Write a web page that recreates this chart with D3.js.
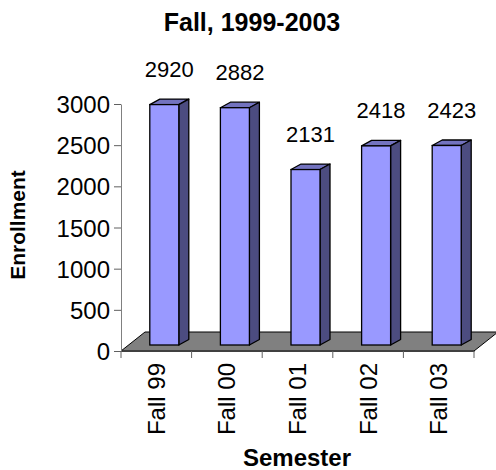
<!DOCTYPE html>
<html>
<head>
<meta charset="utf-8">
<script src="https://d3js.org/d3.v7.min.js"></script>
<style>
    body { margin: 0; background: #fff; }
    text { font-family: "Liberation Sans", Arial, sans-serif; fill: #000; }
</style>
</head>
<body>
<div class="chart"></div>
<script>
var semesters = ["Fall 99", "Fall 00", "Fall 01", "Fall 02", "Fall 03"];
var enrollment = [2920, 2882, 2131, 2418, 2423];
var yTicks = [0, 500, 1000, 1500, 2000, 2500, 3000];

var svgWidth = 496;
var svgHeight = 470;

// plot area (front plane of the floor)
var plot = { left: 121, right: 474, top: 104, bottom: 351 };

// floor depth and bar depth (fake 3d)
var floorDepth = { x: 24, y: -19 };
var barShift = { x: 8, y: -6 };
var barDepth = { x: 10, y: -5.5 };

var svg = d3.select(".chart")
    .append("svg")
    .attr("width", svgWidth)
    .attr("height", svgHeight);

var xBandScale = d3.scaleBand()
    .domain(semesters)
    .range([plot.left, plot.right]);

var yLinearScale = d3.scaleLinear()
    .domain([0, 3000])
    .range([plot.bottom, plot.top]);

var barWidth = 29;

// title
svg.append("text")
    .attr("x", 252)
    .attr("y", 31)
    .attr("text-anchor", "middle")
    .style("font-size", "25px")
    .style("font-weight", "bold")
    .text("Fall, 1999-2003");

// floor
var fl = [
    [plot.left, plot.bottom],
    [plot.right, plot.bottom],
    [plot.right + floorDepth.x, plot.bottom + floorDepth.y],
    [plot.left + floorDepth.x, plot.bottom + floorDepth.y]
];
svg.append("polygon")
    .attr("points", fl.map(p => p.join(",")).join(" "))
    .attr("fill", "#808080")
    .attr("stroke", "#000")
    .attr("stroke-width", 1);

// bars
var barGroup = svg.selectAll(".bar")
    .data(semesters)
    .enter()
    .append("g")
    .attr("class", "bar");

function frontX(d) {
    return xBandScale(d) + xBandScale.bandwidth() / 2 + barShift.x - barWidth / 2;
}

function baseY() {
    return yLinearScale(0) + barShift.y;
}

function topY(i) {
    return yLinearScale(enrollment[i]) + barShift.y;
}

// top face
barGroup.append("polygon")
    .attr("points", function(d, i) {
        var x0 = frontX(d), y0 = topY(i);
        return [
            [x0, y0],
            [x0 + barWidth, y0],
            [x0 + barWidth + barDepth.x, y0 + barDepth.y],
            [x0 + barDepth.x, y0 + barDepth.y]
        ].map(p => p.join(",")).join(" ");
    })
    .attr("fill", "#7373bf")
    .attr("stroke", "#000")
    .attr("stroke-width", 1.3)
    .attr("stroke-linejoin", "round");

// side face
barGroup.append("polygon")
    .attr("points", function(d, i) {
        var x0 = frontX(d) + barWidth, y0 = topY(i), y1 = baseY();
        return [
            [x0, y0],
            [x0 + barDepth.x, y0 + barDepth.y],
            [x0 + barDepth.x, y1 + barDepth.y],
            [x0, y1]
        ].map(p => p.join(",")).join(" ");
    })
    .attr("fill", "#4c4c80")
    .attr("stroke", "#000")
    .attr("stroke-width", 1.3)
    .attr("stroke-linejoin", "round");

// front face
barGroup.append("rect")
    .attr("x", d => frontX(d))
    .attr("y", (d, i) => topY(i))
    .attr("width", barWidth)
    .attr("height", (d, i) => baseY() - topY(i))
    .attr("fill", "#9999ff")
    .attr("stroke", "#000")
    .attr("stroke-width", 1.3);

// value labels
barGroup.append("text")
    .attr("x", d => frontX(d) + barWidth / 2 + barDepth.x / 2)
    .attr("y", (d, i) => topY(i) + barDepth.y - 22)
    .attr("text-anchor", "middle")
    .style("font-size", "22px")
    .text((d, i) => enrollment[i]);

// y axis
var leftAxis = d3.axisLeft(yLinearScale)
    .tickValues(yTicks)
    .tickFormat(d3.format("d"))
    .tickSize(7)
    .tickSizeOuter(0)
    .tickPadding(4);

var yAxis = svg.append("g")
    .attr("transform", `translate(${plot.left}, 0)`)
    .call(leftAxis);

yAxis.select(".domain").attr("stroke", "#808080");
yAxis.selectAll(".tick line").attr("stroke", "#606060");
yAxis.selectAll(".tick text")
    .style("font-size", "24px")
    .attr("dy", "0.36em")
    .attr("fill", "#000");

// x axis (labels at band centres)
var bottomAxis = d3.axisBottom(xBandScale)
    .tickSize(0)
    .tickSizeOuter(0);

var xAxis = svg.append("g")
    .attr("transform", `translate(0, ${plot.bottom})`)
    .call(bottomAxis);

xAxis.select(".domain").attr("stroke", "#404040");
xAxis.selectAll(".tick text")
    .style("font-size", "24px")
    .attr("fill", "#000")
    .attr("text-anchor", "end")
    .attr("transform", "rotate(-90)")
    .attr("x", -12)
    .attr("y", 0)
    .attr("dy", "0.35em")
    .attr("dx", 0);

// tick marks between categories
var boundaries = semesters.map(d => xBandScale(d)).concat([plot.right]);
svg.selectAll(".xtick")
    .data(boundaries)
    .enter()
    .append("line")
    .attr("class", "xtick")
    .attr("x1", d => d)
    .attr("x2", d => d)
    .attr("y1", plot.bottom)
    .attr("y2", plot.bottom + 7)
    .attr("stroke", "#606060");

// axis titles
svg.append("text")
    .attr("x", 297)
    .attr("y", 466)
    .attr("text-anchor", "middle")
    .style("font-size", "24px")
    .style("font-weight", "bold")
    .text("Semester");

svg.append("text")
    .attr("transform", "rotate(-90)")
    .attr("x", -225)
    .attr("y", 25)
    .attr("text-anchor", "middle")
    .style("font-size", "21px")
    .style("font-weight", "bold")
    .text("Enrollment");
</script>
</body>
</html>
